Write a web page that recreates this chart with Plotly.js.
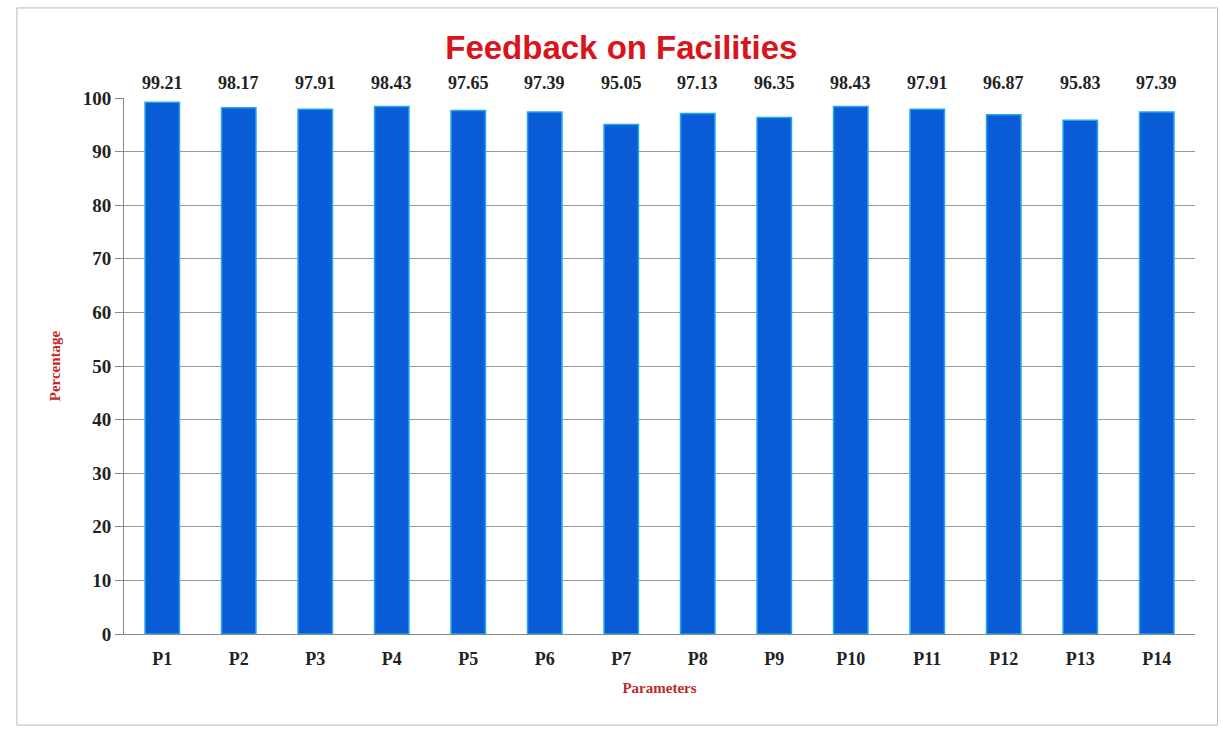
<!DOCTYPE html>
<html>
<head>
<meta charset="utf-8">
<script src="https://cdn.plot.ly/plotly-3.0.1.min.js"></script>
<style>html,body{margin:0;padding:0;background:#fff;}#chart{width:1223px;height:731px;}</style>
</head>
<body>
<div id="chart"></div>
<script>
const categories = ["P1","P2","P3","P4","P5","P6","P7","P8","P9","P10","P11","P12","P13","P14"];
const values = [99.21,98.17,97.91,98.43,97.65,97.39,95.05,97.13,96.35,98.43,97.91,96.87,95.83,97.39];
const valueLabels = ["99.21","98.17","97.91","98.43","97.65","97.39","95.05","97.13","96.35","98.43","97.91","96.87","95.83","97.39"];
const yTicks = [0,10,20,30,40,50,60,70,80,90,100];

const serif = "Liberation Serif, Times New Roman, serif";

const trace = {
  type: "bar",
  x: categories,
  y: values,
  marker: {color: "#0a5cd6", line: {color: "#22a6f2", width: 1.5}},
  width: 0.45,
  hoverinfo: "x+y"
};

const annotations = categories.map((c, i) => ({
  x: c, y: 100, xref: "x", yref: "y",
  text: valueLabels[i], showarrow: false,
  yanchor: "bottom", yshift: 3,
  font: {family: serif, size: 18, color: "#222", weight: "bold"}
}));

const layout = {
  width: 1223, height: 731,
  margin: {l: 124, r: 28, t: 98, b: 97},
  paper_bgcolor: "#ffffff",
  plot_bgcolor: "#ffffff",
  showlegend: false,
  title: {
    text: "<b>Feedback on Facilities</b>",
    x: 0.508, xanchor: "center", y: 0.935, yanchor: "middle",
    font: {family: "Liberation Sans, Arial, sans-serif", size: 33, color: "#d8141c"}
  },
  xaxis: {
    type: "category",
    showline: true, linecolor: "#888", linewidth: 1,
    ticks: "", ticklabelstandoff: 8,
    tickfont: {family: serif, size: 18, color: "#222", weight: "bold"},
    title: {text: "<b>Parameters</b>", font: {family: serif, size: 15, color: "#c0282a"}, standoff: 14},
    fixedrange: true
  },
  yaxis: {
    range: [0, 100], tickvals: yTicks,
    showline: true, linecolor: "#888", linewidth: 1,
    showgrid: true, gridcolor: "#999", gridwidth: 1,
    ticks: "outside", ticklen: 8, tickcolor: "#888",
    tickfont: {family: serif, size: 19, color: "#222", weight: "bold"},
    title: {text: "<b>Percentage</b>", font: {family: serif, size: 15, color: "#c0282a"}, standoff: 18},
    zeroline: false, fixedrange: true
  },
  annotations: annotations,
  shapes: [{
    type: "rect", xref: "paper", yref: "paper",
    x0: -0.1, x1: 1.021, y0: -0.17, y1: 1.168,
    line: {color: "#bbb", width: 1}
  }]
};

Plotly.newPlot("chart", [trace], layout, {displayModeBar: false, staticPlot: true});
</script>
</body>
</html>
